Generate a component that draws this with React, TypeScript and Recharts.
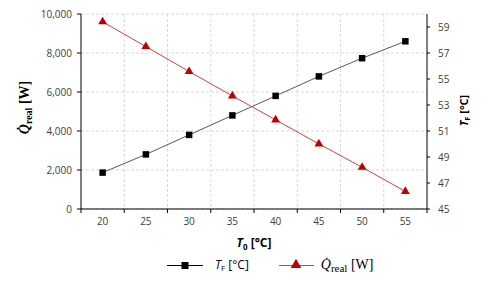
import React from "react";
import { LineChart, Line, XAxis, YAxis, CartesianGrid, Legend, Label, Symbols } from "recharts";

const t0 = [20, 25, 30, 35, 40, 45, 50, 55];
const tF = [47.8, 49.2, 50.7, 52.2, 53.7, 55.2, 56.6, 57.9];
const qReal = [9600, 8330, 7050, 5800, 4570, 3340, 2140, 900];

const xTicks = [17.5, 20, 22.5, 25, 27.5, 30, 32.5, 35, 37.5, 40, 42.5, 45, 47.5, 50, 52.5, 55, 57.5];
const xBounds = [22.5, 27.5, 32.5, 37.5, 42.5, 47.5, 52.5];
const leftTicks = [0, 2000, 4000, 6000, 8000, 10000];
const rightTicks = [45, 47, 49, 51, 53, 55, 57, 59];

const data = t0.map((t, i) => ({ t0: t, tF: tF[i], q: qReal[i] }));

const SANS = "'Open Sans', 'DejaVu Sans', sans-serif";
const SERIF = "'Liberation Serif', 'DejaVu Serif', serif";
const TICK = { fontSize: 10, fill: "#404040", fontFamily: SANS };

function XTick(props: any) {
  const { x, y, payload } = props;
  const v = payload.value;
  if (v % 5 === 0) {
    return (
      <text x={x} y={y} dy="0.71em" textAnchor="middle" {...TICK}>
        {v}
      </text>
    );
  }
  // boundary between categories: small tick mark under the axis
  return <line x1={x} x2={x} y1={y - 9} y2={y - 5} stroke="#000" strokeWidth={1} />;
}

function XTitle(props: any) {
  const vb = props.viewBox;
  return (
    <text x={vb.x + vb.width / 2} y={vb.y + 38} textAnchor="middle" fontFamily={SANS} fontSize={12} fontWeight="bold" fill="#000">
      <tspan fontStyle="italic">T</tspan>
      <tspan fontSize={8} dy={3}>0</tspan>
      <tspan dy={-3}> [°C]</tspan>
    </text>
  );
}

function LeftTitle(props: any) {
  const vb = props.viewBox;
  const cx = vb.x + 29;
  const cy = vb.y + vb.height / 2 - 4;
  return (
    <text x={cx} y={cy} transform={`rotate(-90 ${cx} ${cy})`} textAnchor="middle" fontFamily={SERIF} fontSize={14} fontWeight="bold" fill="#000">
      <tspan fontStyle="italic">Q̇</tspan>
      <tspan fontSize={10} dy={3}>real</tspan>
      <tspan dy={-3}> [W]</tspan>
    </text>
  );
}

function RightTitle(props: any) {
  const vb = props.viewBox;
  const cx = vb.x + 41;
  const cy = vb.y + vb.height / 2 - 1;
  return (
    <text x={cx} y={cy} transform={`rotate(-90 ${cx} ${cy})`} textAnchor="middle" fontFamily={SANS} fontSize={11} fontWeight="bold" fill="#000">
      <tspan fontStyle="italic">T</tspan>
      <tspan fontSize={7} dy={2}>F</tspan>
      <tspan dy={-2}> [°C]</tspan>
    </text>
  );
}

const subStyle = (size: number, drop: number): React.CSSProperties => ({
  fontSize: size,
  position: "relative",
  top: drop,
  lineHeight: 0,
});

function LegendBox() {
  return (
    <div
      style={{
        height: 27,
        display: "flex",
        alignItems: "flex-start",
        paddingTop: 5,
        paddingLeft: 167,
        boxSizing: "border-box",
        lineHeight: "12px",
      }}
    >
      <svg width={36} height={12}>
        <line x1={0} x2={36} y1={6.5} y2={6.5} stroke="#000" strokeWidth={1} />
        <Symbols cx={18} cy={6.5} type="square" size={49} fill="#000" />
      </svg>
      <span style={{ marginLeft: 12, fontFamily: SANS, fontSize: 12, color: "#000", whiteSpace: "nowrap" }}>
        <i>T</i>
        <span style={subStyle(8, 2)}>F</span> [°C]
      </span>
      <svg width={35} height={12} style={{ marginLeft: 30 }}>
        <line x1={0} x2={35} y1={6.5} y2={6.5} stroke="#d04040" strokeWidth={1} />
        <Symbols cx={17} cy={6} type="triangle" size={50} fill="#c00000" />
      </svg>
      <span style={{ marginLeft: 7, fontFamily: SERIF, fontSize: 14, color: "#000", whiteSpace: "nowrap" }}>
        <i>Q̇</i>
        <span style={subStyle(11, 3)}>real</span> [W]
      </span>
    </div>
  );
}

export default function App() {
  return (
    <div style={{ position: "absolute", left: 0, top: 0, width: 488, height: 281, background: "#fff" }}>
      <LineChart width={488} height={281} data={data} margin={{ top: 14, right: 0, left: 0, bottom: 0 }}>
        <CartesianGrid yAxisId="left" stroke="#d9d9d9" strokeDasharray="3 2" verticalValues={xBounds} />
        <XAxis
          dataKey="t0"
          type="number"
          domain={[17.5, 57.5]}
          ticks={xTicks}
          interval={0}
          height={45}
          tick={<XTick />}
          tickLine={false}
          tickSize={4}
          tickMargin={5}
          axisLine={{ stroke: "#000" }}
        >
          <Label content={<XTitle />} />
        </XAxis>
        <YAxis
          yAxisId="left"
          width={81}
          domain={[0, 10000]}
          ticks={leftTicks}
          interval={0}
          tick={TICK}
          tickSize={4}
          tickMargin={5}
          tickFormatter={(v) => v.toLocaleString("en-US")}
          axisLine={{ stroke: "#000" }}
          tickLine={{ stroke: "#000" }}
        >
          <Label content={<LeftTitle />} />
        </YAxis>
        <YAxis
          yAxisId="right"
          orientation="right"
          width={61}
          domain={[45, 60]}
          ticks={rightTicks}
          interval={0}
          tick={TICK}
          tickSize={3}
          tickMargin={8}
          axisLine={{ stroke: "#000" }}
          tickLine={{ stroke: "#000" }}
        >
          <Label content={<RightTitle />} />
        </YAxis>
        <Legend verticalAlign="bottom" content={<LegendBox />} />
        <Line
          yAxisId="right"
          dataKey="tF"
          stroke="#595959"
          strokeWidth={1}
          isAnimationActive={false}
          dot={(p: any) => <Symbols key={`s${p.index}`} cx={p.cx} cy={p.cy} type="square" size={42} fill="#000" />}
        />
        <Line
          yAxisId="left"
          dataKey="q"
          stroke="#d04040"
          strokeWidth={1}
          isAnimationActive={false}
          dot={(p: any) => <Symbols key={`t${p.index}`} cx={p.cx} cy={p.cy} type="triangle" size={34} fill="#c00000" />}
        />
      </LineChart>
    </div>
  );
}
